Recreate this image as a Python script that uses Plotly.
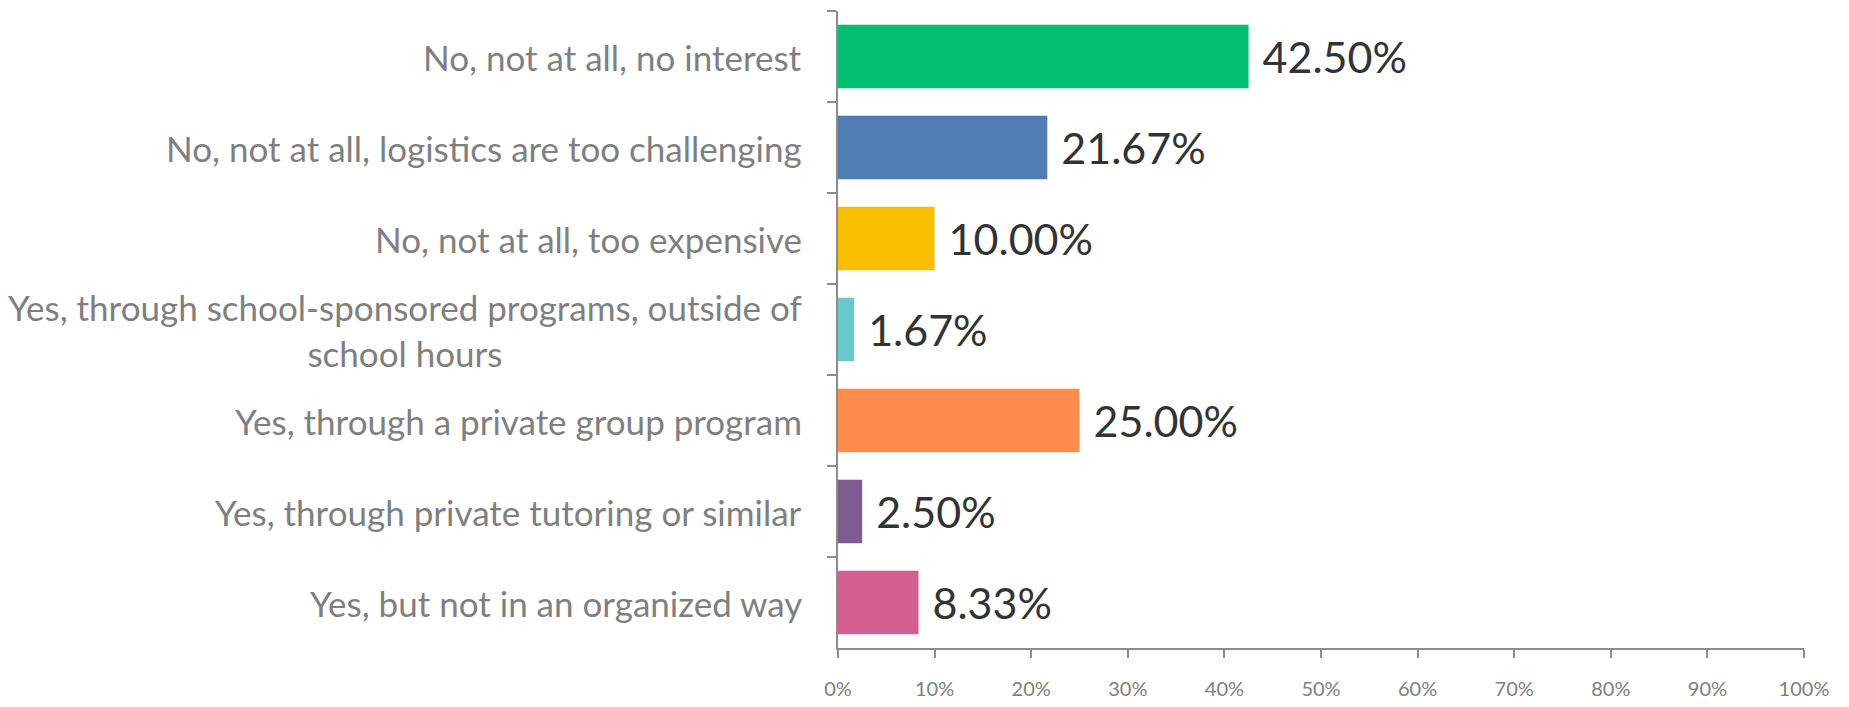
import plotly.graph_objects as go

categories = [
    "No, not at all, no interest",
    "No, not at all, logistics are too challenging",
    "No, not at all, too expensive",
    "Yes, through school-sponsored programs, outside of<br>school hours",
    "Yes, through a private group program",
    "Yes, through private tutoring or similar",
    "Yes, but not in an organized way",
]
values = [42.50, 21.67, 10.00, 1.67, 25.00, 2.50, 8.33]
colors = ["#00BF6F", "#507CB6", "#F9BE00", "#6BC8CD", "#FF8B4F", "#7D5C91", "#D25F90"]
x_ticks = [0, 10, 20, 30, 40, 50, 60, 70, 80, 90, 100]
x_tick_labels = [f"{v}%" for v in x_ticks]

FONT = "Lato, 'Open Sans', sans-serif"

fig = go.Figure()
fig.add_trace(go.Bar(
    y=categories,
    x=values,
    orientation="h",
    marker=dict(color=colors, line=dict(width=0)),
    text=[f"\u00a0{v:.2f}%" for v in values],
    textposition="outside",
    constraintext="none",
    cliponaxis=False,
    textfont=dict(family=FONT, size=43, color="#333333"),
    hoverinfo="skip",
))

for cat in categories:
    fig.add_annotation(
        x=0, xref="paper", y=cat, yref="y",
        text=cat, showarrow=False,
        xanchor="right", yanchor="middle", align="center",
        xshift=-34,
        font=dict(family=FONT, size=35, color="#7f7f7f"),
    )

fig.update_layout(
    width=1849, height=707,
    margin=dict(l=830, r=53, t=3, b=67),
    paper_bgcolor="white",
    plot_bgcolor="white",
    showlegend=False,
    bargap=0.3,
    xaxis=dict(
        range=[0, 100],
        tickvals=x_ticks,
        ticktext=x_tick_labels,
        showgrid=False,
        zeroline=False,
        showline=True,
        linecolor="#8c8c8c",
        linewidth=2,
        ticks="outside",
        ticklen=8,
        tickcolor="#8c8c8c",
        tickwidth=2,
        ticklabelstandoff=14,
        tickfont=dict(family=FONT, size=20, color="#808080"),
    ),
    yaxis=dict(
        autorange="reversed",
        showticklabels=False,
        showgrid=False,
        zeroline=False,
        showline=True,
        linecolor="#8c8c8c",
        linewidth=2,
        ticks="outside",
        tickson="boundaries",
        ticklen=9,
        tickcolor="#8c8c8c",
        tickwidth=2,
    ),
)

fig.write_html("out.html")
